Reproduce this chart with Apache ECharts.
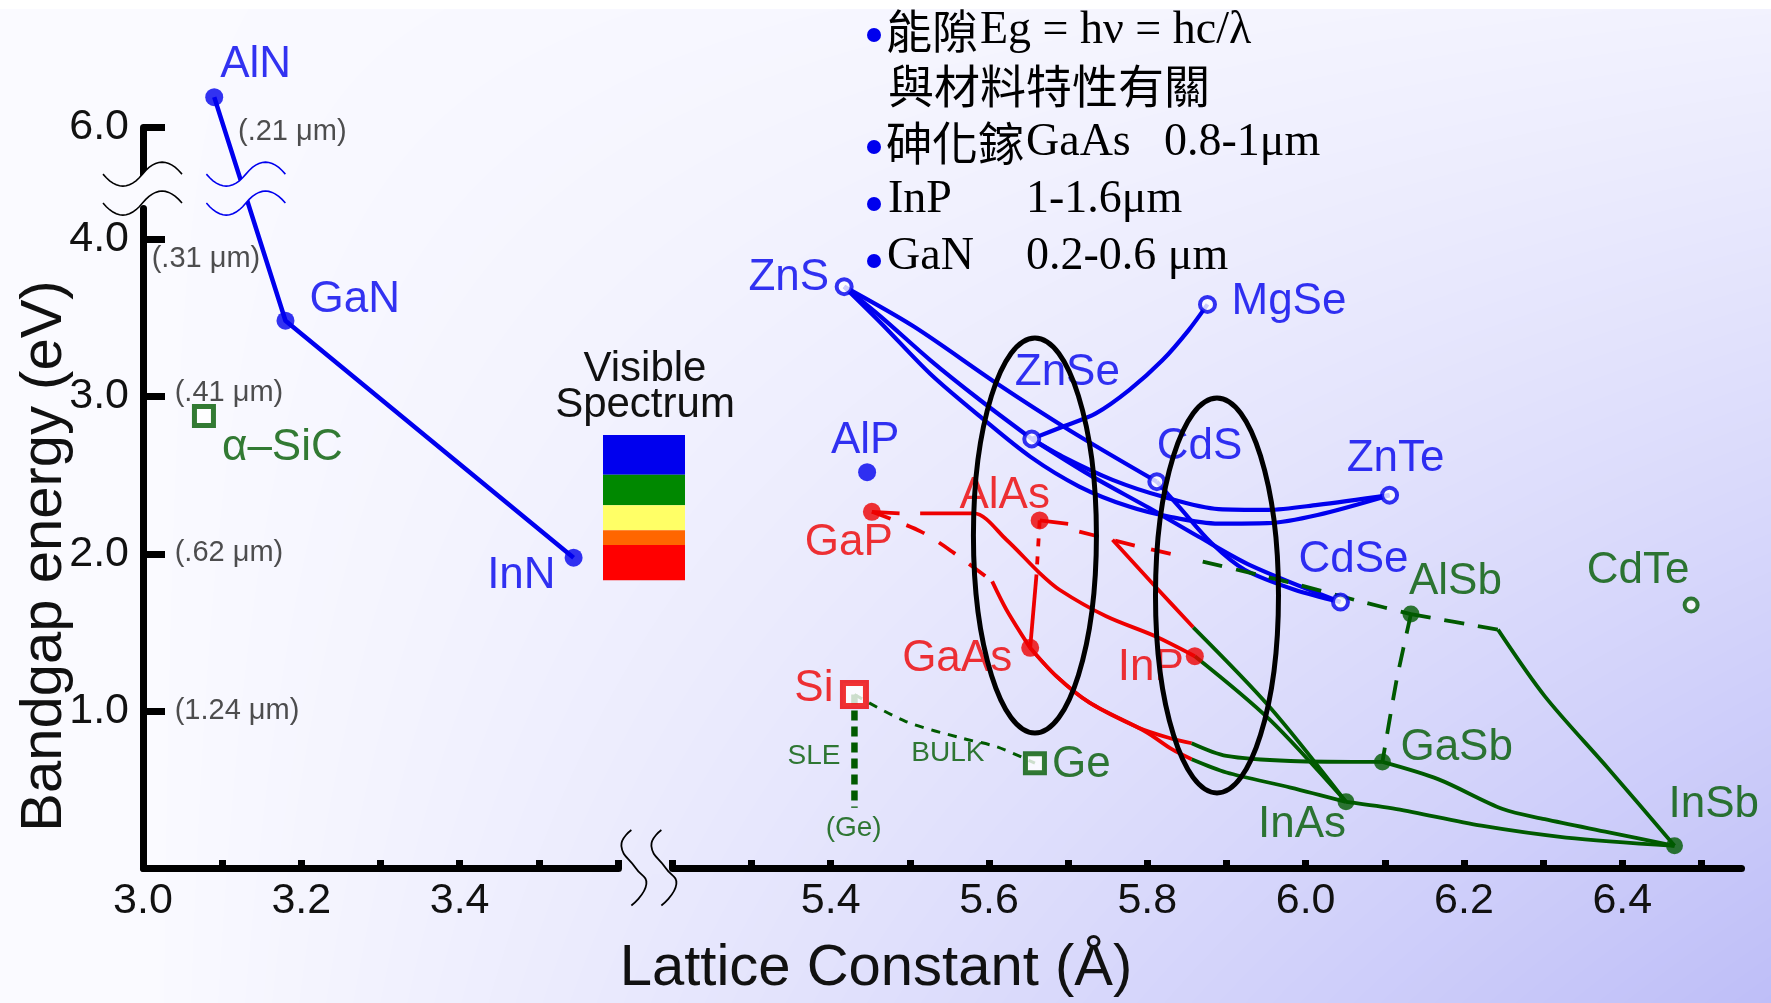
<!DOCTYPE html>
<html>
<head>
<meta charset="utf-8">
<title>Bandgap vs lattice constant</title>
<script src="https://cdn.jsdelivr.net/npm/echarts@6.0.0/dist/echarts.min.js"></script>
<style>
  html, body { margin: 0; padding: 0; background: #fbfbff; }
  #bg, #main { position: absolute; left: 0; top: 0; }
  #main { width: 1771px; height: 1003px; }
</style>
</head>
<body>
<canvas id="bg" width="1771" height="1003"></canvas>
<div id="main"></div>
<script>
// ---- data ----
var materials = ['AlN', 'GaN', 'InN', 'α–SiC', 'ZnS', 'MgSe', 'ZnSe', 'AlP', 'CdS', 'ZnTe', 'GaP',
    'AlAs', 'CdSe', 'AlSb', 'CdTe', 'GaAs', 'InP', 'Si', 'Ge', 'GaSb', 'InAs', 'InSb'];
var latticeA = [3.09, 3.18, 3.544, 3.077, 5.417, 5.876, 5.654, 5.446, 5.812, 6.106, 5.452,
    5.664, 6.044, 6.133, 6.487, 5.652, 5.860, 5.430, 5.658, 6.097, 6.051, 6.466];
var bandgapEV = [6.19, 3.483, 1.975, 2.877, 3.70, 3.587, 2.731, 2.519, 2.459, 2.373, 2.267,
    2.212, 1.693, 1.616, 1.674, 1.401, 1.348, 1.104, 0.667, 0.675, 0.421, 0.141];

var blueDots = ['AlN', 'GaN', 'InN', 'AlP'];
var blueRings = ['ZnS', 'MgSe', 'ZnSe', 'CdS', 'ZnTe', 'CdSe'];
var redDots = ['GaP', 'AlAs', 'GaAs', 'InP'];
var greenDots = ['AlSb', 'GaSb', 'InAs', 'InSb'];
var greenRings = ['CdTe'];
var redSquares = ['Si'];
var greenSquares = ['α–SiC', 'Ge'];

var xTicks = [3.0, 3.1, 3.2, 3.3, 3.4, 3.5, 3.6, 5.2, 5.3, 5.4, 5.5, 5.6, 5.7, 5.8, 5.9, 6.0, 6.1, 6.2, 6.3, 6.4, 6.5];
var xTickLabels = ['3.0', '3.2', '3.4', '5.4', '5.6', '5.8', '6.0', '6.2', '6.4'];
var yTickLabels = ['1.0', '2.0', '3.0', '4.0', '6.0'];

// alloy curves: material names or [lattice, eV] points
var nitrideLine = ['AlN', 'GaN', 'InN'];
var blueCurves = [
    ['ZnS', [5.505, 3.446], [5.61, 3.083], [5.70, 2.791], 'CdS'],
    ['ZnS', [5.464, 3.506], [5.526, 3.231], [5.589, 2.977], 'ZnSe'],
    ['ZnS', [5.464, 3.466], [5.526, 3.144], [5.589, 2.872], [5.652, 2.618], [5.714, 2.428], [5.777, 2.30],
        [5.827, 2.237], [5.890, 2.192], [5.952, 2.195], [6.015, 2.247], 'ZnTe'],
    ['ZnSe', [5.693, 2.618], [5.756, 2.470], [5.819, 2.364], [5.890, 2.284], [5.952, 2.279], [6.015, 2.311], 'ZnTe'],
    ['ZnSe', [5.727, 2.502], [5.802, 2.292], [5.865, 2.108], [5.931, 1.924], 'CdSe'],
    ['CdS', [5.840, 2.30], [5.881, 2.068], [5.923, 1.898], [5.986, 1.771], 'CdSe'],
    ['ZnSe', [5.693, 2.808], [5.735, 2.893], [5.777, 3.041], [5.819, 3.231], [5.852, 3.422], 'MgSe']
];
var redSolid = [
    ['GaP', [5.487, 2.257]],
    [[5.513, 2.257], [5.581, 2.257], [5.622, 2.089], [5.664, 1.877], [5.689, 1.771], [5.748, 1.602], [5.810, 1.475], 'InP'],
    [[5.604, 1.824], [5.622, 1.644], 'GaAs'],
    [[5.660, 1.867], 'GaAs'],
    ['AlAs', [5.70, 2.19]],
    [[5.756, 2.089], [5.810, 1.792], [5.858, 1.532]],
    ['GaAs', [5.685, 1.221], [5.727, 1.052], [5.789, 0.893], [5.831, 0.823], [5.856, 0.794]],
    ['GaAs', [5.685, 1.221], [5.727, 1.052], [5.798, 0.867], [5.831, 0.756], [5.856, 0.692]]
];
var redDashed = [
    ['GaP', [5.514, 2.141], [5.556, 2.004], [5.604, 1.824]],
    [[5.714, 2.141], [5.789, 2.046], [5.845, 1.982]]
];
var redDotted = [
    ['AlAs', [5.660, 1.867]]
];
var greenSolid = [
    [[6.243, 1.517], [6.302, 1.094], [6.383, 0.629], 'InSb'],
    [[5.858, 1.532], [5.954, 1.028], 'InAs'],
    ['InP', [5.954, 0.947], 'InAs'],
    [[5.856, 0.794], [5.900, 0.713], [5.981, 0.681], 'GaSb'],
    [[5.856, 0.692], [5.900, 0.608], [5.981, 0.512], 'InAs'],
    ['GaSb', [6.168, 0.564], [6.249, 0.375], [6.302, 0.311], [6.383, 0.227], 'InSb'],
    ['InAs', [6.115, 0.375], [6.222, 0.269], [6.329, 0.194], 'InSb']
];
var greenDashed = [
    [[5.87, 1.95], [5.940, 1.866], [5.990, 1.804], [6.069, 1.697], 'AlSb'],
    ['AlSb', [6.243, 1.517]],
    ['AlSb', [6.115, 1.199], 'GaSb']
];
var siGeBulk = ['Si', [5.495, 0.932], [5.566, 0.826], [5.61, 0.771], 'Ge'];
var siGeSle = ['Si', [5.430, 0.383]];

var wlText = ['(.21 μm)', '(.31 μm)', '(.41 μm)', '(.62 μm)', '(1.24 μm)'];
var wlX = [3.120, 3.011, 3.040, 3.040, 3.040];
var wlY = [5.968, 3.879, 3.022, 2.004, 1.0];

var noteText = ['SLE', 'BULK', '(Ge)'];
var noteX = [5.379, 5.548, 5.429];
var noteY = [0.714, 0.728, 0.255];

// ---- styling ----
var BLUE = '#0000ee', RED = '#ee0000', GREEN = '#005a00';
var SANS = 'Liberation Sans, Arial, Helvetica, sans-serif';
var SERIF = 'Liberation Serif, Times New Roman, serif';
var CJK = 'Noto Sans CJK TC, Noto Sans CJK SC, sans-serif';

// [align, dx, dy] of each material label relative to its marker
var labelPlace = {
    'AlN': ['left', 6, -32], 'GaN': ['left', 24, -21], 'InN': ['right', -18, 18], 'α–SiC': ['left', 18, 32],
    'ZnS': ['right', -15, -9], 'MgSe': ['left', 24, -3], 'ZnSe': ['left', -17, -66], 'AlP': ['center', -2, -31],
    'CdS': ['left', 0, -35], 'ZnTe': ['center', 6, -36], 'GaP': ['right', 21, 31], 'AlAs': ['center', -35, -25],
    'CdSe': ['center', 13, -42], 'AlSb': ['left', -2, -32], 'CdTe': ['center', -53, -34], 'GaAs': ['right', -18, 11],
    'InP': ['right', -11, 12], 'Si': ['right', -21, -6], 'Ge': ['left', 17, 2], 'GaSb': ['left', 18, -14],
    'InAs': ['right', 0, 23], 'InSb': ['left', -6, -41]
};

// background: white, darkening to lavender towards the lower right corner
function bgRGB(x, y) {
    var fx = Math.max(0, Math.min(1, (x - 150) / 1621));
    var fy = Math.max(0, Math.min(1, (y + 150) / 1153));
    var d = 60 * fx * fy;
    return [Math.round(250 - d), Math.round(250 - d), Math.round(255 - d * 0.12)];
}
function bgAt(x, y) { return 'rgb(' + bgRGB(x, y).join(',') + ')'; }

(function paintBackground() {
    var cv = document.getElementById('bg');
    var ctx = cv.getContext('2d');
    var img = ctx.createImageData(1771, 1003);
    for (var y = 0; y < 1003; y++) {
        for (var x = 0; x < 1771; x++) {
            var c = y < 9 ? [255, 255, 255] : bgRGB(x, y);
            var k = (y * 1771 + x) * 4;
            img.data[k] = c[0]; img.data[k + 1] = c[1]; img.data[k + 2] = c[2]; img.data[k + 3] = 255;
        }
    }
    ctx.putImageData(img, 0, 0);
})();

function P(p) {
    if (typeof p === 'string') {
        var i = materials.indexOf(p);
        return [latticeA[i], bandgapEV[i]];
    }
    return p;
}

function curve(pts, color, type, width, smooth) {
    return {
        type: 'line',
        data: pts.map(P),
        symbol: 'none',
        smooth: smooth,
        clip: false,
        silent: true,
        z: 3,
        lineStyle: { color: color, width: width, type: type, cap: 'butt', join: 'round' }
    };
}

function markers(names, color, symbol, size, hollow, border) {
    return {
        type: 'scatter',
        symbol: symbol,
        symbolSize: size,
        clip: false,
        silent: true,
        z: 5,
        itemStyle: hollow
            ? { color: '#ffffff', borderColor: color, borderWidth: border }
            : { color: color },
        label: {
            show: true,
            formatter: '{b}',
            color: color,
            fontSize: 44,
            fontFamily: SANS
        },
        data: names.map(function (n) {
            var lp = labelPlace[n];
            return {
                name: n,
                value: P(n),
                label: { position: 'inside', align: lp[0], verticalAlign: 'middle', offset: [lp[1], lp[2]] }
            };
        })
    };
}

function textPoints(texts, xs, ys, color, size, align) {
    return {
        type: 'scatter',
        symbolSize: 0,
        clip: false,
        silent: true,
        z: 4,
        label: {
            show: true, position: 'inside', formatter: '{b}', color: color,
            fontSize: size, fontFamily: SANS, align: align, verticalAlign: 'middle'
        },
        data: texts.map(function (t, i) { return { name: t, value: [xs[i], ys[i]] }; })
    };
}

var series = [];
series.push(curve(nitrideLine, BLUE, 'solid', 4.5, false));
blueCurves.forEach(function (c) { series.push(curve(c, BLUE, 'solid', 4.2, 0.3)); });
redSolid.forEach(function (c) { series.push(curve(c, RED, 'solid', 3.8, 0.3)); });
redDashed.forEach(function (c) { series.push(curve(c, RED, [20, 17], 3.8, 0.3)); });
redDotted.forEach(function (c) { series.push(curve(c, RED, [8, 10], 3.8, false)); });
greenSolid.forEach(function (c) { series.push(curve(c, GREEN, 'solid', 3.8, 0.3)); });
greenDashed.forEach(function (c) { series.push(curve(c, GREEN, [20, 14], 3.8, 0.2)); });
series.push(curve(siGeBulk, GREEN, [9, 8], 3, 0.3));
series.push(curve(siGeSle, GREEN, [10, 6], 6.5, false));

series.push(markers(blueDots, BLUE, 'circle', 18, false));
series.push(markers(blueRings, BLUE, 'circle', 15, true, 4));
series.push(markers(redDots, RED, 'circle', 18, false));
series.push(markers(greenDots, GREEN, 'circle', 17, false));
series.push(markers(greenRings, GREEN, 'circle', 13, true, 4));
series.push(markers(redSquares, RED, 'rect', 23, true, 6));
series.push(markers(greenSquares, GREEN, 'rect', 19, true, 5));

series.push(textPoints(wlText, wlX, wlY, '#222222', 29, 'left'));
series.push(textPoints(noteText, noteX, noteY, GREEN, 28, 'center'));

var chart = echarts.init(document.getElementById('main'));

function fmt1(v) { return (Math.round(v * 10) / 10).toFixed(1); }

var option = {
    animation: false,
    backgroundColor: 'transparent',
    textStyle: { fontFamily: SANS },
    grid: { left: 143, right: 30, top: 127, bottom: 135, containLabel: false },
    xAxis: {
        type: 'value',
        min: 3.0,
        max: 6.55,
        breaks: [{ start: 3.6, end: 5.2, gap: 0.0688 }],
        breakArea: { show: false },
        axisLine: { onZero: false, lineStyle: { color: '#000', width: 7 } },
        axisTick: { inside: true, length: 8, customValues: xTicks, lineStyle: { color: '#000', width: 7 } },
        axisLabel: {
            fontSize: 43, color: '#111', margin: 12, fontFamily: SANS,
            customValues: xTickLabels.map(parseFloat),
            formatter: fmt1
        },
        splitLine: { show: false }
    },
    yAxis: {
        type: 'value',
        min: 0,
        max: 6,
        breaks: [{ start: 4.2, end: 5.7, gap: 0.216 }],
        breakArea: { show: false },
        axisLine: { onZero: false, lineStyle: { color: '#000', width: 7 } },
        axisTick: {
            inside: true, length: 22, customValues: yTickLabels.map(parseFloat),
            lineStyle: { color: '#000', width: 7 }
        },
        axisLabel: {
            fontSize: 43, color: '#111', margin: 14, fontFamily: SANS,
            customValues: yTickLabels.map(parseFloat),
            formatter: fmt1
        },
        splitLine: { show: false }
    },
    series: series
};

chart.setOption(option);

// ---- decorations placed from the axes ----
function px(x, y) { return chart.convertToPixel({ gridIndex: 0 }, [x, y]); }

function quadPts(x0, y0, cx, cy, x1, y1, n) {
    var out = [];
    for (var i = 0; i <= n; i++) {
        var t = i / n, u = 1 - t;
        out.push([u * u * x0 + 2 * u * t * cx + t * t * x1, u * u * y0 + 2 * u * t * cy + t * t * y1]);
    }
    return out;
}
function wavePts(x0, b) {
    return quadPts(x0, b, x0 + 20, b + 24, x0 + 39.5, b, 12)
        .concat(quadPts(x0 + 39.5, b, x0 + 59, b - 24, x0 + 79, b, 12).slice(1));
}
function waveBreak(x0, bu, bl, color, width) {
    var up = wavePts(x0, bu), lo = wavePts(x0, bl);
    return [
        { type: 'polygon', z: 50, silent: true, shape: { points: up.concat(lo.slice().reverse()) },
          style: { fill: bgAt(x0 + 40, (bu + bl) / 2), stroke: null } },
        { type: 'polyline', z: 51, silent: true, shape: { points: up }, style: { stroke: color, lineWidth: width, fill: null } },
        { type: 'polyline', z: 51, silent: true, shape: { points: lo }, style: { stroke: color, lineWidth: width, fill: null } }
    ];
}

var graphics = [];

// y-axis break
var pUp = px(3.0, 5.7), pLo = px(3.0, 4.2);
var bu = pUp[1], bl = pLo[1] - 5;
graphics = graphics.concat(waveBreak(pUp[0] - 40, bu, bl, '#000', 1.6));
// same break on the AlN-GaN line
var pa = px(P('AlN')[0], P('AlN')[1]), pg = px(P('GaN')[0], P('GaN')[1]);
var midY = (bu + bl) / 2;
var xl = pa[0] + (midY - pa[1]) / (pg[1] - pa[1]) * (pg[0] - pa[0]);
graphics = graphics.concat(waveBreak(xl - 37, bu, bl, BLUE, 1.6));

// x-axis break
var p36 = px(3.6, 0), p52 = px(5.2, 0);
var xb = (p36[0] + p52[0]) / 2, ya = p36[1];
graphics.push({ type: 'rect', z: 50, silent: true,
    shape: { x: xb - 10, y: ya - 6, width: 31, height: 12 }, style: { fill: bgAt(xb, ya) } });
[0, 30].forEach(function (d) {
    graphics.push({ type: 'polyline', z: 51, silent: true,
        shape: { smooth: 0.5, points: [[xb - 13.8 + d, ya - 38], [xb - 23.8 + d, ya - 22], [xb - 9.5 + d, ya],
            [xb + 1.2 + d, ya + 16], [xb - 13.8 + d, ya + 37.5]] },
        style: { stroke: '#000', lineWidth: 1.8, fill: null } });
});

// ellipses around the lattice-matched regions
[[5.658, 2.116], [5.888, 1.735]].forEach(function (c) {
    var p = px(c[0], c[1]);
    graphics.push({ type: 'ellipse', z: 60, silent: true, shape: { cx: p[0], cy: p[1], rx: 61.5, ry: 197.5 },
        style: { fill: null, stroke: '#000', lineWidth: 5 } });
});

// visible spectrum
var bands = [[434.9, 474.7, '#0000ee'], [474.7, 505.3, '#008800'], [505.3, 530.2, '#ffff66'],
    [530.2, 545.1, '#ff6600'], [545.1, 580.3, '#ff0000']];
bands.forEach(function (b) {
    graphics.push({ type: 'rect', z: 40, silent: true, shape: { x: 603, y: b[0], width: 82, height: b[1] - b[0] },
        style: { fill: b[2] } });
});
graphics.push({ type: 'text', z: 40, silent: true, x: 645, y: 369,
    style: { text: 'Visible', font: '42px ' + SANS, fill: '#111', align: 'center', verticalAlign: 'middle' } });
graphics.push({ type: 'text', z: 40, silent: true, x: 645, y: 405,
    style: { text: 'Spectrum', font: '42px ' + SANS, fill: '#111', align: 'center', verticalAlign: 'middle' } });

// axis titles
graphics.push({ type: 'text', z: 40, silent: true, x: 876, y: 969,
    style: { text: 'Lattice Constant (Å)', font: '58px ' + SANS, fill: '#111', align: 'center', verticalAlign: 'middle' } });
graphics.push({ type: 'text', z: 40, silent: true, x: 45, y: 556, rotation: Math.PI / 2,
    style: { text: 'Bandgap energy (eV)', font: '58px ' + SANS, fill: '#111', align: 'center', verticalAlign: 'middle' } });

// notes block
function note(x, y, s, fam) {
    graphics.push({ type: 'text', z: 40, silent: true, x: x, y: y,
        style: { text: s, font: '46px ' + fam, fill: '#000', align: 'left', verticalAlign: 'middle' } });
}
[[31, true], [86, false], [143, true], [200, true], [257, true]].forEach(function (l) {
    if (l[1]) {
        graphics.push({ type: 'circle', z: 40, silent: true, shape: { cx: 874, cy: l[0] + 4, r: 7 }, style: { fill: BLUE } });
    }
});
note(886, 31, '能隙', CJK);
note(980, 31, 'Eg = hν = hc/λ', SERIF);
note(888, 86, '與材料特性有關', CJK);
note(886, 143, '砷化鎵', CJK);
note(1026, 143, 'GaAs', SERIF);
note(1164, 143, '0.8-1μm', SERIF);
note(888, 200, 'InP', SERIF);
note(1026, 200, '1-1.6μm', SERIF);
note(887, 257, 'GaN', SERIF);
note(1026, 257, '0.2-0.6 μm', SERIF);

chart.setOption({ graphic: graphics });
</script>
</body>
</html>
